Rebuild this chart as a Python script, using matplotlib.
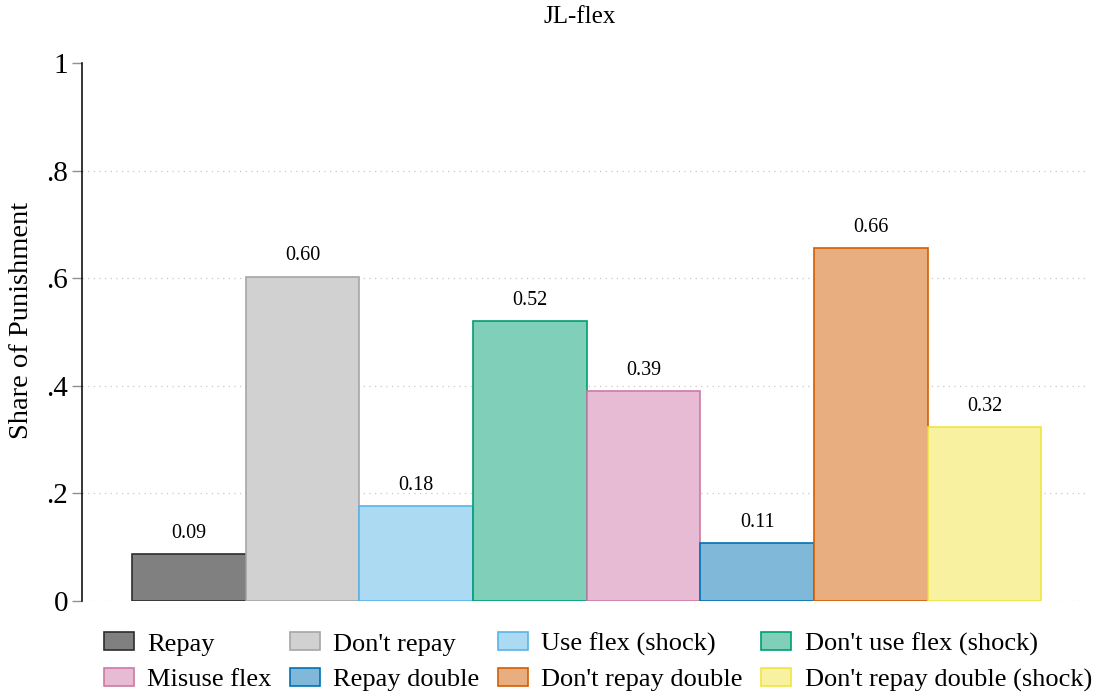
import numpy as np
import matplotlib
matplotlib.use("Agg")
import matplotlib.pyplot as plt

plt.rcParams["font.family"] = ["Liberation Serif", "DejaVu Serif"]

labels = ["Repay", "Don't repay", "Use flex (shock)", "Don't use flex (shock)",
          "Misuse flex", "Repay double", "Don't repay double", "Don't repay double (shock)"]
shares = [0.088, 0.603, 0.176, 0.521, 0.390, 0.107, 0.656, 0.324]
fills = ["#808080", "#d1d1d1", "#acdaf3", "#80d0b9", "#e6bbd3", "#80b8da", "#e9ae80", "#f8f1a0"]
edges = ["#2e2e2e", "#a6a6a6", "#56b4e9", "#009e73", "#cc79a7", "#0072b2", "#d55e00", "#f0e442"]
yticks = [0, 0.2, 0.4, 0.6, 0.8, 1]
yticklabels = ["0", ".2", ".4", ".6", ".8", "1"]

fig = plt.figure(figsize=(10.97, 6.95), dpi=100)
ax = fig.add_axes([0.0748, 0.1353, 0.917, 0.7741])

x = np.arange(len(shares))
bars = []
for i in range(len(shares)):
    b = ax.bar(x[i], shares[i], width=1.0, color=fills[i], edgecolor=edges[i],
               linewidth=1.2, label=labels[i], zorder=3)
    bars.append(b[0])
    ax.annotate(f"{shares[i]:.2f}", (x[i], shares[i]), xytext=(0, 8),
                textcoords="offset points", ha="center", va="bottom", fontsize=14.5, zorder=4)

ax.set_xlim(-0.94, 7.91)
ax.set_ylim(0, 1)
ax.set_yticks(yticks)
ax.set_yticklabels(yticklabels, fontsize=21)
for yv in yticks[:-1]:
    ax.axhline(yv, color="#c8c8c8", lw=0.9, ls=(0, (1, 3.5)), zorder=1)
ax.set_xticks([])
for s in ["top", "right", "bottom"]:
    ax.spines[s].set_visible(False)
ax.spines["left"].set_linewidth(1.1)
ax.tick_params(axis="y", length=7, width=1.0, color="#909090", pad=3)
ax.set_ylabel("Share of Punishment", fontsize=20.5)
ax.yaxis.set_label_coords(-0.048, 0.522)
fig.text(0.528, 0.975, "JL-flex", ha="center", va="center", fontsize=18)

# legend reads row by row (matplotlib fills columns first)
order = [0, 4, 1, 5, 2, 6, 3, 7]
fig.legend(handles=[bars[k] for k in order], labels=[labels[k] for k in order],
           ncol=4, loc="center", bbox_to_anchor=(0.545, 0.0475), frameon=False,
           fontsize=19, handlelength=1.14, handleheight=0.68, handletextpad=0.5,
           columnspacing=0.7, labelspacing=0.45)

fig.savefig("out.png", dpi=100)
